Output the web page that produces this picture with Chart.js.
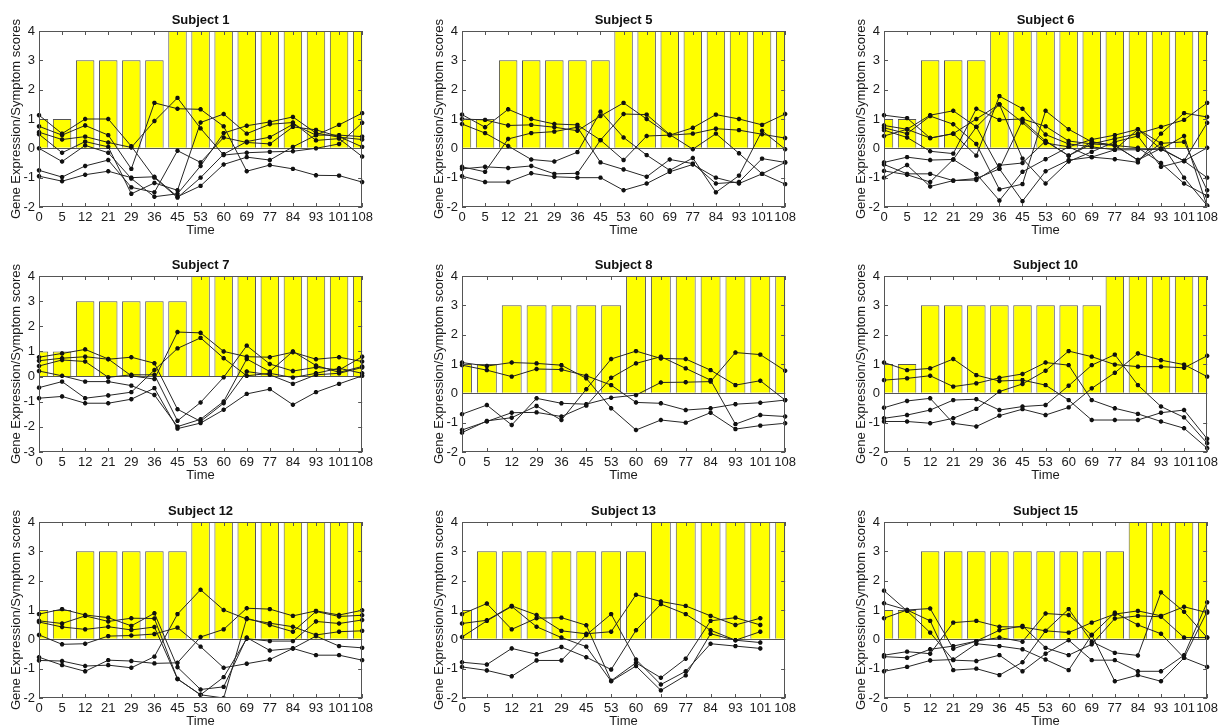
<!DOCTYPE html>
<html>
<head>
<meta charset="utf-8">
<script src="https://cdn.jsdelivr.net/npm/chart.js@4.4.1/dist/chart.umd.min.js"></script>
<style>
  html, body { margin: 0; padding: 0; background: #fff; width: 1221px; height: 725px; overflow: hidden; }
  canvas { position: absolute; }
</style>
</head>
<body>
<canvas id="s1"  width="376" height="239" style="left:0px;top:1px"></canvas>
<canvas id="s5"  width="376" height="239" style="left:423px;top:1px"></canvas>
<canvas id="s6"  width="376" height="239" style="left:845px;top:1px"></canvas>
<canvas id="s7"  width="376" height="239" style="left:0px;top:246px"></canvas>
<canvas id="s8"  width="376" height="239" style="left:423px;top:246px"></canvas>
<canvas id="s10" width="376" height="239" style="left:845px;top:246px"></canvas>
<canvas id="s12" width="376" height="239" style="left:0px;top:492px"></canvas>
<canvas id="s13" width="376" height="239" style="left:423px;top:492px"></canvas>
<canvas id="s15" width="376" height="239" style="left:845px;top:492px"></canvas>
<script>
// sampling days (x categories)
const timeAll = ['0', '5', '12', '21', '29', '36', '45', '53', '60', '69', '77', '84', '93', '101', '108'];
const time8 = ['0', '5', '12', '29', '36', '45', '53', '60', '69', '77', '84', '93', '101', '108'];
const time13 = ['0', '5', '12', '21', '29', '45', '53', '60', '69', '77', '84', '93', '101', '108'];

// symptom scores (yellow bars)
const sym1 = [1, 1, 3, 3, 3, 3, 4, 4, 4, 4, 4, 4, 4, 4, 4];
const sym5 = [1, 1, 3, 3, 3, 3, 3, 4, 4, 4, 4, 4, 4, 4, 4];
const sym6 = [1, 1, 3, 3, 3, 4, 4, 4, 4, 4, 4, 4, 4, 4, 4];
const sym7 = [1, 1, 3, 3, 3, 3, 3, 4, 4, 4, 4, 4, 4, 4, 4];
const sym8 = [1, 1, 3, 3, 3, 3, 3, 4, 4, 4, 4, 4, 4, 4];
const sym10 = [1, 1, 3, 3, 3, 3, 3, 3, 3, 3, 4, 4, 4, 4, 4];
const sym12 = [1, 1, 3, 3, 3, 3, 3, 4, 4, 4, 4, 4, 4, 4, 4];
const sym13 = [1, 3, 3, 3, 3, 3, 3, 3, 4, 4, 4, 4, 4, 4];
const sym15 = [1, 1, 3, 3, 3, 3, 3, 3, 3, 3, 3, 4, 4, 4, 4];

// gene expression profiles (black lines)
const genes1 = [
  [1.13, 0.5, 1.0, 1.0, 0.07, -1.0, -1.68, -1.0, -0.2, 0.23, 0.38, 0.82, 0.45, 0.45, 0.4],
  [0.75, 0.45, 0.78, 0.45, -0.7, 1.55, 1.35, 1.33, 0.75, -0.78, -0.57, -0.7, -0.92, -0.93, -1.15],
  [0.55, 0.3, 0.4, 0.2, 0.03, 0.93, 1.72, 0.68, -0.23, -0.15, -0.12, -0.1, 0.0, 0.15, 0.87],
  [0.48, -0.15, 0.23, 0.05, -1.55, -1.18, -1.43, 0.88, 1.17, 0.5, 0.82, 0.88, 0.27, 0.33, -0.28],
  [0.0, -0.45, 0.1, -0.15, -1.03, -1.65, -1.55, -0.6, 0.52, 0.77, 0.9, 1.07, 0.52, 0.38, 0.3],
  [-0.75, -0.98, -0.6, -0.4, -1.33, -1.5, -0.08, -0.48, 0.37, 0.2, 0.15, 0.73, 0.63, 0.4, 0.05],
  [-0.95, -1.12, -0.9, -0.78, -1.0, -0.97, -1.65, -1.28, -0.55, -0.3, -0.4, 0.05, 0.45, 0.8, 1.2]
];
const genes5 = [
  [1.15, 0.72, 1.33, 1.0, 0.83, 0.8, 0.28, 1.17, 1.15, 0.47, -0.03, 0.5, -0.17, -0.87, -0.48],
  [1.0, 0.97, 0.78, 0.8, 0.72, 0.6, 1.1, 1.55, 1.0, 0.45, 0.7, 1.15, 1.0, 0.8, 1.17],
  [0.83, 0.52, 0.08, -0.38, -0.45, -0.13, 1.25, 0.37, -0.23, -0.75, -0.33, -1.5, -0.93, 0.6, -0.03],
  [-0.63, -0.8, 0.32, 0.52, 0.57, 0.72, -0.48, -0.72, -0.97, -0.38, -0.52, -1.2, -1.15, -0.35, -0.48],
  [-0.7, -0.63, -0.67, -0.6, -0.87, -0.85, 0.28, -0.4, 0.42, 0.45, 0.5, 0.67, 0.62, 0.48, 0.35],
  [-0.95, -1.15, -1.15, -0.85, -0.97, -1.0, -1.0, -1.43, -1.2, -0.8, -0.55, -1.0, -1.2, -0.87, -1.22]
];
const genes6 = [
  [1.13, 1.03, 0.35, 0.5, 1.0, 1.5, 0.88, 0.18, 0.05, 0.3, 0.45, 0.65, 0.17, -1.0, -1.95],
  [0.78, 0.65, 1.13, 1.28, 0.73, -0.7, -1.8, -0.78, -0.4, -0.3, -0.37, -0.48, 0.5, 1.2, 1.07],
  [0.7, 0.5, 1.1, 0.82, 0.15, -1.4, -1.22, 1.28, 0.65, 0.22, 0.1, 0.02, -0.5, -1.2, -1.62],
  [0.62, 0.37, -0.1, -0.18, 1.35, 0.97, 1.0, 0.75, 0.25, 0.15, 0.33, 0.5, 0.73, 0.97, 1.55],
  [0.42, 0.65, 0.35, 0.5, -0.25, 1.78, 1.35, 0.47, 0.15, 0.05, -0.05, -0.05, -0.03, 0.42, -1.98],
  [-0.48, -0.3, -0.4, -0.38, 0.73, 1.5, -0.35, -1.2, -0.45, -0.12, 0.22, 0.42, -0.63, -0.43, 0.02],
  [-0.55, -0.87, -0.87, -1.1, -1.08, -0.58, -0.5, 0.25, -0.25, 0.22, 0.1, -0.4, 0.17, 0.22, -1.43],
  [-0.77, -0.9, -1.15, -0.38, -0.87, -1.78, -0.8, -0.37, 0.05, -0.3, -0.05, 0.65, -0.03, -0.43, 0.87],
  [-1.0, -0.57, -1.3, -1.1, -1.03, -0.7, 0.95, 0.25, -0.25, 0.15, 0.1, -0.4, 0.0, -0.43, -1.0]
];
const genes7 = [
  [0.77, 0.92, 1.08, 0.7, 0.03, -0.1, 1.77, 1.74, 1.0, 0.79, 0.77, 0.97, 0.69, 0.77, 0.6],
  [0.63, 0.73, 0.79, 0.69, 0.77, 0.53, -1.3, -1.78, -1.06, 0.2, 0.07, -0.29, 0.07, 0.13, 0.36],
  [0.42, 0.66, 0.6, -0.03, 0.07, 0.07, -1.76, -1.03, -0.03, 1.23, 0.5, 0.22, 0.37, 0.26, 0.79],
  [0.22, 0.03, -0.2, -0.2, -0.36, -0.73, -1.99, -1.7, -0.99, 0.7, 0.2, 1.0, 0.44, 0.17, 0.4],
  [-0.44, -0.2, -0.86, -0.75, -0.62, 0.26, 1.12, 1.54, 0.73, 0.03, 0.13, -0.04, 0.13, 0.33, 0.13],
  [-0.86, -0.79, -1.06, -1.06, -0.9, -0.46, -2.07, -1.85, -1.32, -0.69, -0.5, -1.12, -0.62, -0.29, 0.03]
];
const genes8 = [
  [1.05, 0.93, 1.05, 1.02, 0.96, 0.51, -0.51, -1.25, -0.91, -1.0, -0.66, -1.22, -1.1, -1.02],
  [0.96, 0.79, 0.57, 0.83, 0.81, 0.6, 0.28, -0.31, -0.34, -0.57, -0.51, -0.37, -0.32, -0.23],
  [-1.34, -0.94, -0.83, -0.43, -0.91, 0.14, 1.17, 1.44, 1.19, 1.17, 0.79, 0.28, 0.43, -0.23],
  [-1.25, -0.96, -0.66, -0.65, -0.79, -0.42, 0.53, 1.02, 1.25, 0.85, 0.45, -1.05, -0.74, -0.79],
  [-0.71, -0.4, -1.08, -0.17, -0.34, -0.37, -0.15, -0.06, 0.37, 0.38, 0.4, 1.39, 1.32, 0.77]
];
const genes10 = [
  [1.05, 0.79, 0.85, 1.17, 0.62, 0.42, 0.45, 0.28, -0.23, -0.91, -0.91, -0.91, -0.66, -0.57, -1.55],
  [0.45, 0.51, 0.6, 0.23, 0.34, 0.53, 0.66, 1.05, 0.96, -0.23, -0.51, -0.7, -0.96, -1.19, -1.87],
  [-0.49, -0.26, -0.17, -1.02, -1.13, -0.76, -0.54, -0.74, -0.48, 0.17, 0.7, 1.36, 1.13, 0.98, 0.57],
  [-0.85, -0.74, -0.57, -0.23, -0.2, -0.57, -0.45, -0.4, 0.26, 0.96, 1.32, 0.28, -0.45, -0.82, -1.7],
  [-0.96, -0.96, -1.02, -0.85, -0.53, 0.06, 0.32, 0.77, 1.44, 1.25, 0.98, 0.91, 0.91, 0.87, 1.28]
];
const genes12 = [
  [0.86, 1.03, 0.83, 0.74, 0.46, 0.89, -0.95, -1.71, -1.62, 0.06, -0.38, -0.31, 0.11, -0.23, -0.29],
  [0.63, 0.54, 0.8, 0.61, 0.72, 0.71, -1.35, -1.89, -2.0, 0.72, 0.49, 0.26, 0.95, 0.78, 0.82],
  [0.59, 0.42, 0.34, 0.43, 0.32, 0.42, -1.35, -1.89, -1.29, 0.02, -0.06, -0.06, 0.61, 0.54, 0.66],
  [0.15, -0.17, -0.15, 0.11, 0.13, 0.18, 0.4, -0.25, -0.97, -0.83, -0.69, -0.31, -0.54, -0.54, -0.71],
  [-0.61, -0.88, -1.09, -0.71, -0.74, -0.82, -0.8, 0.08, 0.34, 1.06, 1.03, 0.8, 0.97, 0.83, 0.99],
  [-0.72, -0.74, -0.91, -0.88, -0.97, -0.59, 0.86, 1.69, 1.0, 0.69, 0.55, 0.43, 0.15, 0.26, 0.29]
];
const genes13 = [
  [0.86, 1.22, 0.34, 0.72, 0.74, 0.48, -1.41, -0.8, -1.31, -0.66, 0.63, 0.74, 0.49, null],
  [0.54, 0.65, 1.14, 0.83, 0.29, 0.19, 0.26, 1.52, 1.29, 1.14, 0.8, 0.49, 0.72, null],
  [0.08, 0.63, 1.12, 0.43, 0.06, -0.25, -1.43, -0.91, -1.74, -1.23, 0.19, -0.03, 0.26, null],
  [-0.78, -0.86, -0.31, -0.51, -0.26, -0.61, -1.03, 0.31, 1.2, 0.86, 0.31, -0.03, -0.11, null],
  [-0.94, -1.06, -1.26, -0.72, -0.72, 0.15, 0.86, -0.69, -1.54, -1.09, -0.15, -0.23, -0.31, null]
];
const genes15 = [
  [1.66, 0.97, 0.23, -0.71, -0.74, -0.54, -1.09, -0.49, -0.03, -0.71, -0.71, -1.09, -1.09, -0.54, 1.26],
  [1.23, 1.0, 0.63, -1.05, -1.0, -1.22, -0.78, 0.29, 1.03, -0.08, -0.46, -0.55, 1.6, 0.94, 0.06],
  [0.72, 1.0, 1.05, -0.32, -0.06, 0.06, -0.08, 0.88, 0.83, 0.15, 0.91, 0.49, 0.19, -0.63, 0.95],
  [-0.54, -0.42, -0.49, 0.57, 0.63, 0.43, 0.42, 0.29, 0.23, 0.57, 0.86, 0.97, 0.8, 1.11, 0.91],
  [-0.59, -0.63, -0.34, -0.23, -0.06, 0.31, 0.46, -0.29, -0.54, -0.17, 0.71, 0.8, 0.77, 0.06, 0.06],
  [-1.09, -0.94, -0.72, -0.69, -0.15, -0.23, -0.34, -0.69, -1.05, 0.15, -1.43, -1.22, -1.43, -0.63, -0.94]
];

const FONT = '"Liberation Sans", Arial, Helvetica, sans-serif';

// box around the plot + inward tick marks, matlab style
const framePlugin = {
  id: 'frame',
  afterDatasetsDraw(chart) {
    const { ctx, chartArea: a, scales: { x, y } } = chart;
    ctx.save();
    ctx.strokeStyle = '#555';
    ctx.lineWidth = 1;
    ctx.strokeRect(Math.round(a.left) + 0.5, Math.round(a.top) + 0.5,
      Math.round(a.right - a.left) - 1, Math.round(a.bottom - a.top) - 1);
    ctx.beginPath();
    x.ticks.forEach((t, i) => {
      const px = Math.round(x.getPixelForTick(i)) + 0.5;
      ctx.moveTo(px, a.bottom); ctx.lineTo(px, a.bottom - 4);
      ctx.moveTo(px, a.top); ctx.lineTo(px, a.top + 4);
    });
    y.ticks.forEach((t, i) => {
      const py = Math.round(y.getPixelForTick(i)) + 0.5;
      ctx.moveTo(a.left, py); ctx.lineTo(a.left + 4, py);
      ctx.moveTo(a.right, py); ctx.lineTo(a.right - 4, py);
    });
    ctx.stroke();
    ctx.restore();
  }
};

function drawPanel(id, title, times, symptoms, genes, yMin) {
  const datasets = genes.map(g => ({
    type: 'line',
    data: g,
    borderColor: '#262626',
    borderWidth: 1,
    pointStyle: 'star',
    pointRadius: 2.2,
    pointBorderWidth: 1.5,
    pointBorderColor: '#111',
    pointBackgroundColor: '#111',
    tension: 0,
    order: 0
  }));
  datasets.push({
    type: 'bar',
    data: symptoms,
    backgroundColor: '#ffff00',
    borderColor: '#555',
    borderWidth: 1,
    barPercentage: 0.8,
    categoryPercentage: 1,
    order: 1
  });

  new Chart(document.getElementById(id), {
    type: 'bar',
    data: { labels: times, datasets: datasets },
    options: {
      responsive: false,
      animation: false,
      events: [],
      layout: { padding: { left: 0, right: 12, top: 0, bottom: 0 } },
      plugins: {
        legend: { display: false },
        tooltip: { enabled: false },
        title: {
          display: true,
          text: title,
          fullSize: false,
          color: '#111',
          font: { family: FONT, size: 13, weight: 'bold', lineHeight: 1.2 },
          padding: { top: 12, bottom: 2.4 }
        }
      },
      scales: {
        x: {
          offset: false,
          grid: { display: false, drawTicks: false },
          border: { display: false },
          ticks: { autoSkip: false, maxRotation: 0, padding: 3, color: '#1a1a1a', font: { family: FONT, size: 13 } },
          title: { display: true, text: 'Time', color: '#1a1a1a', padding: { top: 0, bottom: 2 }, font: { family: FONT, size: 13 } },
          afterFit: s => { s.height = 33; }
        },
        y: {
          min: yMin,
          max: 4,
          grid: {
            drawTicks: false,
            color: c => (c.tick && c.tick.value === 0 ? '#555' : 'rgba(0,0,0,0)')
          },
          border: { display: false },
          ticks: { stepSize: 1, padding: 4, color: '#1a1a1a', font: { family: FONT, size: 13 } },
          title: { display: true, text: 'Gene Expression/Symptom scores', color: '#1a1a1a', padding: { top: 9, bottom: 0 }, font: { family: FONT, size: 13 } },
          afterFit: s => { s.width = 39; }
        }
      }
    },
    plugins: [framePlugin]
  });
}

drawPanel('s1', 'Subject 1', timeAll, sym1, genes1, -2);
drawPanel('s5', 'Subject 5', timeAll, sym5, genes5, -2);
drawPanel('s6', 'Subject 6', timeAll, sym6, genes6, -2);
drawPanel('s7', 'Subject 7', timeAll, sym7, genes7, -3);
drawPanel('s8', 'Subject 8', time8, sym8, genes8, -2);
drawPanel('s10', 'Subject 10', timeAll, sym10, genes10, -2);
drawPanel('s12', 'Subject 12', timeAll, sym12, genes12, -2);
drawPanel('s13', 'Subject 13', time13, sym13, genes13, -2);
drawPanel('s15', 'Subject 15', timeAll, sym15, genes15, -2);
</script>
</body>
</html>
